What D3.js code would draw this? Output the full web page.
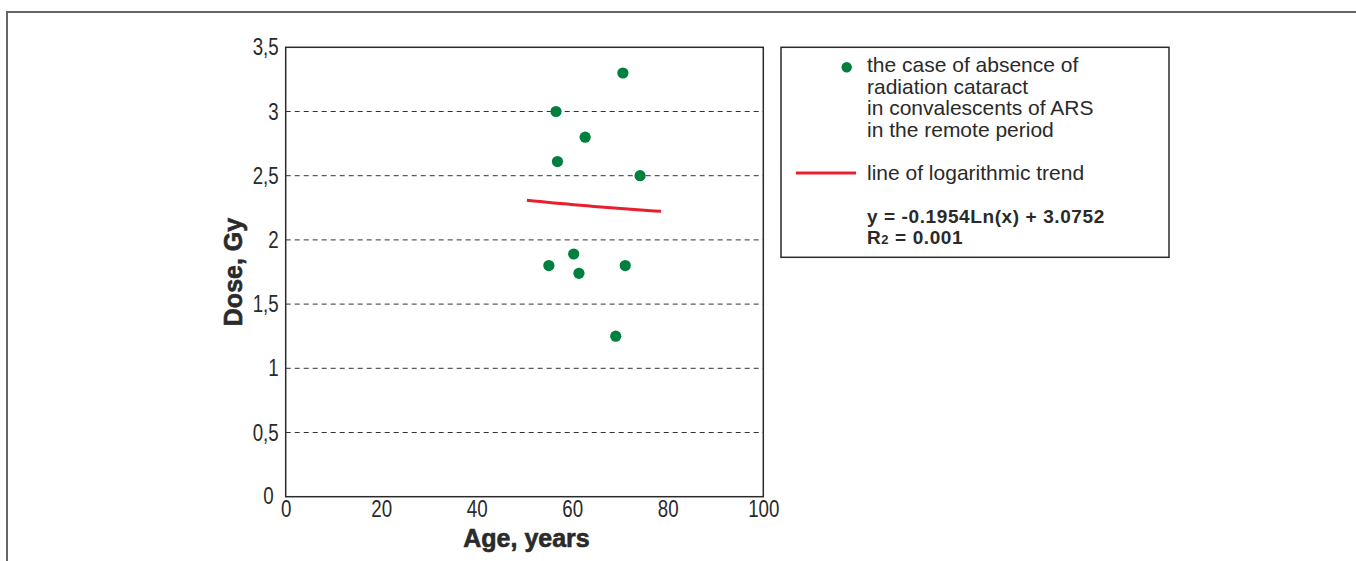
<!DOCTYPE html>
<html>
<head>
<meta charset="utf-8">
<script src="https://cdn.jsdelivr.net/npm/d3@7"></script>
<style>
  html, body { margin: 0; padding: 0; background: #fff; }
  svg { display: block; }
</style>
</head>
<body>
<svg id="chart" width="1356" height="561"></svg>
<script>
// Age (years) and dose (Gy) of convalescents without radiation cataract
const ages  = [70.6, 56.6, 62.7, 56.9, 74.2, 60.3, 55.1, 61.4, 71.1, 69.1];
const doses = [3.30, 3.00, 2.80, 2.61, 2.50, 1.89, 1.80, 1.74, 1.80, 1.25];

// Logarithmic trend y = a*ln(x) + b, drawn over the age span below
const trendCoef = [-0.1954, 3.0752];
const trendSpan = [50.5, 78.6];

const xTicks = [0, 20, 40, 60, 80, 100];
const yTicks = [0, 0.5, 1, 1.5, 2, 2.5, 3, 3.5];
const yTickLabels = ["0", "0,5", "1", "1,5", "2", "2,5", "3", "3,5"];

const legendLines = [
  "the case of absence of",
  "radiation cataract",
  "in convalescents of ARS",
  "in the remote period"
];
const trendLabel = "line of logarithmic trend";
const equationText = "y = -0.1954Ln(x) + 3.0752";
const r2Text = ["R", "2", " = 0.001"];

const svg = d3.select("#chart");
const plot = { left: 285.7, right: 763.3, top: 47.3, bottom: 496.7 };

const x = d3.scaleLinear().domain([0, 100]).range([plot.left, plot.right]);
const y = d3.scaleLinear().domain([0, 3.5]).range([plot.bottom, plot.top]);

const dark = "#2a2a2a";
const green = "#00803f";
const red = "#e8202e";
const sans = "'Liberation Sans', Arial, sans-serif";
const narrow = 0.78; // horizontal squeeze for the condensed tick numerals

// Outer frame of the figure
svg.append("rect")
  .attr("x", 7).attr("y", 12)
  .attr("width", 1370).attr("height", 580)
  .attr("fill", "none").attr("stroke", "#666").attr("stroke-width", 2);

// Dashed horizontal grid
svg.append("g")
  .selectAll("line")
  .data(yTicks.filter(v => v > 0 && v < 3.5))
  .join("line")
  .attr("x1", plot.left).attr("x2", plot.right)
  .attr("y1", d => y(d)).attr("y2", d => y(d))
  .attr("stroke", "#333").attr("stroke-width", 1)
  .attr("stroke-dasharray", "5,4");

// Plot border
svg.append("rect")
  .attr("x", plot.left).attr("y", plot.top)
  .attr("width", plot.right - plot.left).attr("height", plot.bottom - plot.top)
  .attr("fill", "none").attr("stroke", dark).attr("stroke-width", 1.5);

// Axes (labels only; the border carries the lines)
const yAxis = d3.axisLeft(y)
  .tickValues(yTicks)
  .tickSize(0)
  .tickPadding(0)
  .tickFormat((d, i) => yTickLabels[i]);
const gy = svg.append("g").attr("transform", `translate(${plot.left},0)`).call(yAxis);
gy.select(".domain").remove();
gy.selectAll("text")
  .attr("x", null)
  .attr("font-family", sans)
  .attr("font-size", 24).attr("fill", dark)
  .attr("transform", d => `translate(${d === 0 ? -12 : -7},${d === 0 ? -1 : 0}) scale(${narrow},1)`);

const xAxis = d3.axisBottom(x)
  .tickValues(xTicks)
  .tickSize(0)
  .tickPadding(3)
  .tickFormat(d3.format("d"));
const gx = svg.append("g").attr("transform", `translate(0,${plot.bottom})`).call(xAxis);
gx.select(".domain").remove();
gx.selectAll("text")
  .attr("font-family", sans)
  .attr("font-size", 24).attr("fill", dark)
  .attr("transform", `scale(${narrow},1)`);

// Axis titles
svg.append("text")
  .attr("x", (plot.left + plot.right) / 2 + 2).attr("y", 547)
  .attr("text-anchor", "middle")
  .attr("font-family", sans)
  .attr("font-weight", "bold").attr("font-size", 25).attr("fill", dark)
  .attr("stroke", dark).attr("stroke-width", 0.6)
  .text("Age, years");

svg.append("text")
  .attr("transform", `translate(242,${(plot.top + plot.bottom) / 2}) rotate(-90)`)
  .attr("text-anchor", "middle")
  .attr("font-family", sans)
  .attr("font-weight", "bold").attr("font-size", 25).attr("fill", dark)
  .attr("stroke", dark).attr("stroke-width", 0.6)
  .text("Dose, Gy");

// Trend line
const trendPts = d3.range(0, 21).map(i => {
  const a = trendSpan[0] + (trendSpan[1] - trendSpan[0]) * i / 20;
  return [a, trendCoef[0] * Math.log(a) + trendCoef[1]];
});
svg.append("path")
  .datum(trendPts)
  .attr("d", d3.line().x(d => x(d[0])).y(d => y(d[1])))
  .attr("fill", "none").attr("stroke", red).attr("stroke-width", 3);

// Observations
svg.append("g")
  .selectAll("circle")
  .data(ages.map((a, i) => [a, doses[i]]))
  .join("circle")
  .attr("cx", d => x(d[0])).attr("cy", d => y(d[1]))
  .attr("r", 5.6).attr("fill", green);

// Legend
const lg = svg.append("g");
lg.append("rect")
  .attr("x", 781).attr("y", 47.3)
  .attr("width", 388).attr("height", 210)
  .attr("fill", "#fff").attr("stroke", dark).attr("stroke-width", 1.5);

lg.append("circle").attr("cx", 846.7).attr("cy", 67.3).attr("r", 5.2).attr("fill", green);

lg.append("g")
  .selectAll("text")
  .data(legendLines)
  .join("text")
  .attr("x", 867).attr("y", (d, i) => 72 + i * 21.5)
  .attr("font-family", sans).attr("font-size", 21).attr("fill", dark)
  .text(d => d);

lg.append("line")
  .attr("x1", 796).attr("x2", 856).attr("y1", 173).attr("y2", 173)
  .attr("stroke", red).attr("stroke-width", 3);
lg.append("text")
  .attr("x", 867).attr("y", 180)
  .attr("font-family", sans).attr("font-size", 21).attr("fill", dark)
  .text(trendLabel);

lg.append("text")
  .attr("x", 867).attr("y", 223)
  .attr("font-family", sans).attr("font-weight", "bold")
  .attr("font-size", 19).attr("fill", dark)
  .attr("letter-spacing", 0.6)
  .text(equationText);

const r2 = lg.append("text")
  .attr("x", 867).attr("y", 244)
  .attr("font-family", sans).attr("font-weight", "bold")
  .attr("font-size", 19).attr("fill", dark)
  .attr("letter-spacing", 0.6);
r2.append("tspan").text(r2Text[0]);
r2.append("tspan").attr("font-size", 13).text(r2Text[1]);
r2.append("tspan").text(r2Text[2]);
</script>
</body>
</html>
